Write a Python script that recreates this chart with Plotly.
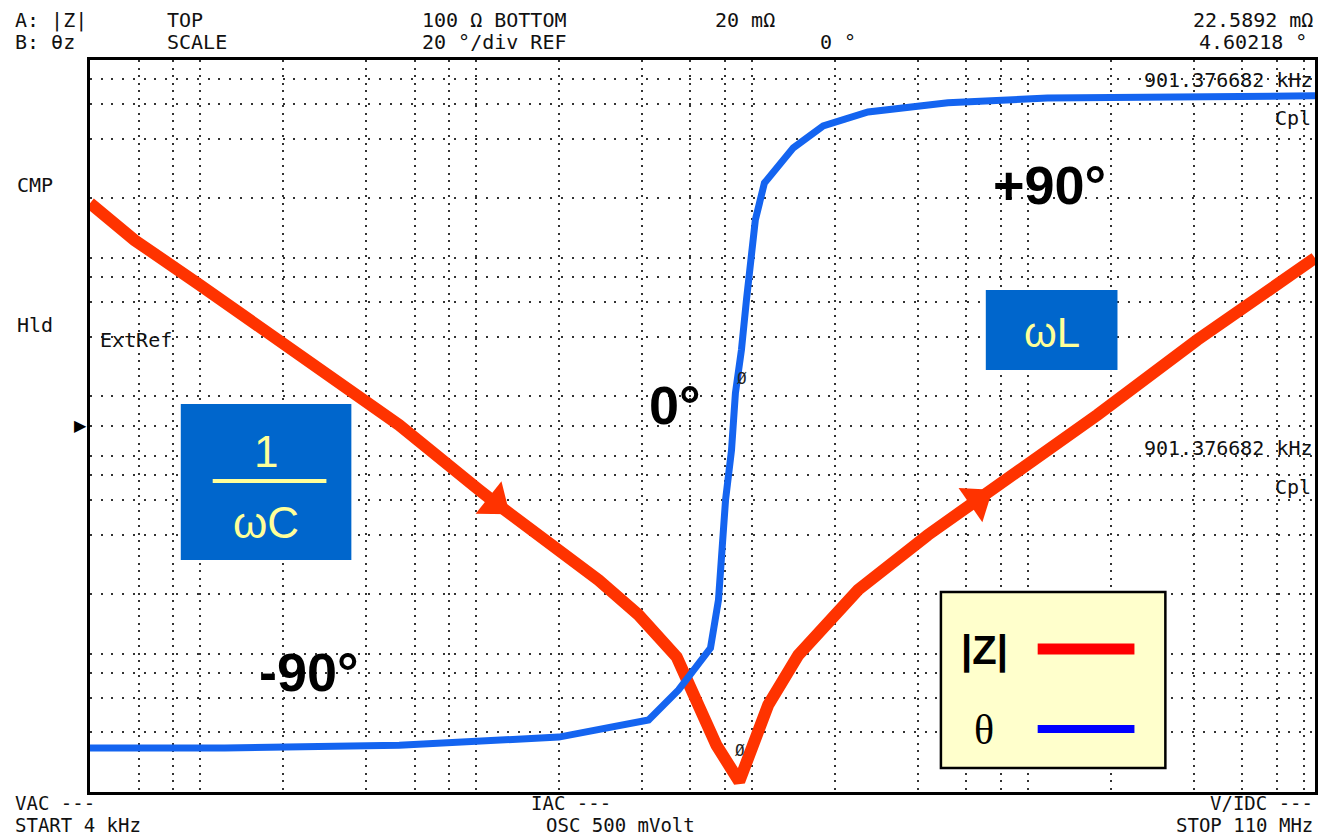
import math
import plotly.graph_objects as go

# ---------------- data ----------------
freq_z = [4.0e3, 5.8e3, 10.0e3, 23.0e3, 52.8e3, 103e3, 118e3, 279e3, 389e3, 535e3,
          641e3, 745e3, 901.4e3, 1.148e6, 1.475e6, 2.43e6, 4.35e6, 6.6e6, 10.0e6,
          17.9e6, 41.2e6, 110e6]
z_mag = [18.9, 12.3, 7.3, 3.23, 1.43, 0.671, 0.577, 0.235, 0.157, 0.0962,
         0.055, 0.0345, 0.0226, 0.0551, 0.0984, 0.210, 0.398, 0.598, 0.897,
         1.61, 3.85, 9.98]
z_arrow_idx = [6, 17]

freq_theta = [4.0e3, 12.3e3, 52.8e3, 200e3, 423e3, 543e3, 709e3, 758e3, 804e3, 845e3,
              873e3, 918e3, 957e3, 1.031e6, 1.112e6, 1.415e6, 1.816e6, 2.64e6,
              5.14e6, 11.8e6, 110e6]
theta = [-88.0, -88.0, -87.2, -85.0, -80.3, -72.1, -60.7, -47.5, -20.2, -6.6,
         9.0, 20.8, 34.4, 56.3, 66.4, 76.0, 82.0, 85.8, 88.3, 89.6, 90.2]

freq_grid = [6e3, 8e3, 1e4, 2e4, 4e4, 6e4, 8e4, 1e5, 2e5, 4e5, 6e5, 8e5, 1e6,
             2e6, 4e6, 6e6, 8e6, 1e7, 2e7, 4e7, 6e7, 8e7, 1e8]
z_grid = [0.04, 0.06, 0.08, 0.1, 0.2, 0.4, 0.6, 0.8, 1, 2, 4, 6, 8, 10, 20, 40, 60, 80]
phase_grid = [0]

freq_range = [4e3, 110e6]
z_range = [0.02, 100]
phase_range = [-100, 100]

header_texts = [
    ("A: |Z|", 13, 20, "left"), ("TOP", 165, 20, "left"),
    ("100 Ω BOTTOM", 570, 20, "right"), ("20 mΩ", 715, 20, "left"),
    ("22.5892 mΩ", 1318, 20, "right"),
    ("B: θz", 13, 42, "left"), ("SCALE", 165, 42, "left"),
    ("20 °/div REF", 570, 42, "right"), ("0 °", 860, 42, "right"),
    ("4.60218 °", 1312, 42, "right"),
    ("CMP", 15, 185, "left"), ("Hld", 15, 325, "left"),
    ("ExtRef", 98, 340, "left"),
    ("901.376682 kHz", 1318, 80, "right"), ("Cpl", 1316, 118, "right"),
    ("901.376682 kHz", 1318, 448, "right"), ("Cpl", 1316, 487, "right"),
]
footer_texts = [
    ("VAC ---", 13, 803, "left"), ("START 4 kHz", 13, 825, "left"),
    ("IAC ---", 530, 803, "left"), ("OSC 500 mVolt", 545, 825, "left"),
    ("V/IDC ---", 1318, 803, "right"), ("STOP 110 MHz", 1318, 825, "right"),
]

# ---------------- layout helpers (pixel -> paper) ----------------
L, R, T, B = 90, 1318, 60, 792
W, H = 1322, 835


def px(x):
    return (x - L) / (R - L)


def py(y):
    return (B - y) / (B - T)


fig = go.Figure()

sym = ["circle"] * len(freq_z)
size = [0] * len(freq_z)
for i in z_arrow_idx:
    sym[i] = "triangle-up"
    size[i] = 36

fig.add_trace(go.Scatter(
    x=freq_theta, y=theta, mode="lines", yaxis="y2",
    line=dict(color="#1464F0", width=7), name="θ", showlegend=False))

fig.add_trace(go.Scatter(
    x=freq_z, y=z_mag, mode="lines+markers",
    line=dict(color="#FF3300", width=12),
    marker=dict(symbol=sym, size=size, color="#FF3300", angleref="previous",
                line=dict(width=0), opacity=1),
    name="|Z|", showlegend=False))

fig.update_layout(
    width=W, height=H,
    margin=dict(l=L, r=W - R, t=T, b=H - B),
    paper_bgcolor="white", plot_bgcolor="white",
    xaxis=dict(type="log", range=[math.log10(freq_range[0]), math.log10(freq_range[1])],
               tickvals=freq_grid, showticklabels=False, ticks="",
               showgrid=True, gridcolor="#333", gridwidth=1.8, griddash="2px,5.5px",
               showline=True, linecolor="black", linewidth=3, mirror=True,
               zeroline=False),
    yaxis=dict(type="log", range=[math.log10(z_range[0]), math.log10(z_range[1])],
               tickvals=z_grid, showticklabels=False, ticks="",
               showgrid=True, gridcolor="#333", gridwidth=1.8, griddash="2px,8.7px",
               showline=True, linecolor="black", linewidth=3, mirror=True,
               zeroline=False),
    yaxis2=dict(overlaying="y", range=phase_range, tickvals=phase_grid,
                showticklabels=False, ticks="", showgrid=True, gridcolor="#333",
                gridwidth=1.8, griddash="2px,8.7px", zeroline=False, showline=False),
    showlegend=False,
)

mono = "DejaVu Sans Mono"
ann = []
for txt, x, y, anc in header_texts:
    ann.append(dict(text=txt, x=px(x), y=py(y), xref="paper", yref="paper",
                    xanchor=anc, yanchor="middle", showarrow=False,
                    font=dict(family=mono, size=20, color="#111")))
for txt, x, y, anc in footer_texts:
    ann.append(dict(text=txt, x=px(x), y=py(y), xref="paper", yref="paper",
                    xanchor=anc, yanchor="middle", showarrow=False,
                    font=dict(family=mono, size=19, color="#111")))

ann.append(dict(text="▶", x=px(80), y=py(425), xref="paper", yref="paper",
                xanchor="center", yanchor="middle", showarrow=False,
                font=dict(family="DejaVu Sans", size=16, color="black")))
ann.append(dict(text="Ø", x=px(742), y=py(750), xref="paper", yref="paper",
                xanchor="center", yanchor="middle", showarrow=False,
                font=dict(family=mono, size=16, color="#222")))
ann.append(dict(text="Ø", x=px(744), y=py(378), xref="paper", yref="paper",
                xanchor="center", yanchor="middle", showarrow=False,
                font=dict(family=mono, size=16, color="#222")))

big = dict(family="Liberation Sans", size=54, color="black")
for txt, x, y in [("<b>+90°</b>", 1052, 185), ("<b>0°</b>", 676, 405), ("<b>-90°</b>", 310, 672)]:
    ann.append(dict(text=txt, x=px(x), y=py(y), xref="paper", yref="paper",
                    xanchor="center", yanchor="middle", showarrow=False, font=big))

yel = "#FFFF99"
ann += [
    dict(text="1", x=px(266), y=py(452), xref="paper", yref="paper", showarrow=False,
         xanchor="center", yanchor="middle",
         font=dict(family="Liberation Sans", size=44, color=yel)),
    dict(text="ωC", x=px(266), y=py(522), xref="paper", yref="paper", showarrow=False,
         xanchor="center", yanchor="middle",
         font=dict(family="Liberation Sans", size=44, color=yel)),
    dict(text="ωL", x=px(1054), y=py(332), xref="paper", yref="paper", showarrow=False,
         xanchor="center", yanchor="middle",
         font=dict(family="Liberation Sans", size=42, color=yel)),
    dict(text="<b>|Z|</b>", x=px(987), y=py(650), xref="paper", yref="paper",
         showarrow=False, xanchor="center", yanchor="middle",
         font=dict(family="Liberation Sans", size=40, color="black")),
    dict(text="θ", x=px(986), y=py(730), xref="paper", yref="paper",
         showarrow=False, xanchor="center", yanchor="middle",
         font=dict(family="Liberation Serif", size=42, color="black")),
]

shapes = [
    dict(type="rect", xref="paper", yref="paper", x0=px(181), x1=px(352),
         y0=py(560), y1=py(404), fillcolor="#0066CC", line=dict(width=0), layer="above"),
    dict(type="line", xref="paper", yref="paper", x0=px(213), x1=px(327),
         y0=py(481), y1=py(481), line=dict(color=yel, width=4), layer="above"),
    dict(type="rect", xref="paper", yref="paper", x0=px(988), x1=px(1120),
         y0=py(370), y1=py(290), fillcolor="#0066CC", line=dict(width=0), layer="above"),
    dict(type="rect", xref="paper", yref="paper", x0=px(943), x1=px(1168),
         y0=py(768), y1=py(592), fillcolor="#FFFFCC",
         line=dict(color="black", width=2.5), layer="above"),
    dict(type="line", xref="paper", yref="paper", x0=px(1040), x1=px(1137),
         y0=py(649), y1=py(649), line=dict(color="#FF0000", width=11), layer="above"),
    dict(type="line", xref="paper", yref="paper", x0=px(1040), x1=px(1137),
         y0=py(729), y1=py(729), line=dict(color="#0000FF", width=8), layer="above"),
]

fig.update_layout(annotations=ann, shapes=shapes)
fig.write_html("out.html", config={"displayModeBar": False},
               post_script="document.body.style.margin='0px';document.body.style.overflow='hidden';")
